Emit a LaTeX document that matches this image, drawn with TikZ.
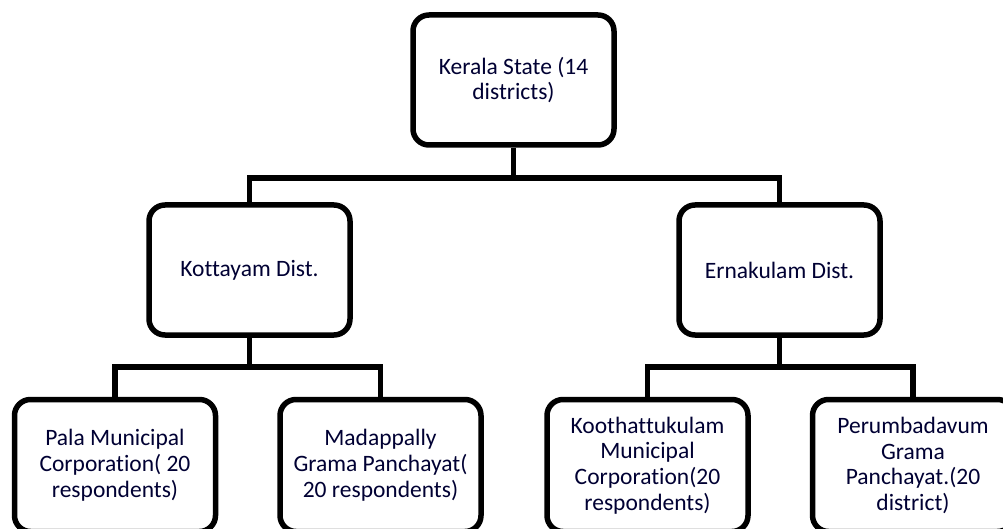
\documentclass[tikz,border=0pt]{standalone}
\usepackage{fontspec}
\setmainfont{Carlito}[Ligatures=CommonOff]
\begin{document}
\begin{tikzpicture}[x=1pt,y=-1pt,
  box/.style={draw=black, line width=5.5pt, rounded corners=16pt, fill=white,
    minimum width=201pt, minimum height=130pt, align=center, inner sep=2pt,
    font=\fontsize{23.5}{25.8}\selectfont, text=black!80!blue},
  link/.style={draw=black, line width=5.5pt}]
\path[use as bounding box] (0,0) rectangle (1003,529);
\begin{scope}
\clip (0,0) rectangle (1003,529);
\node[box] (ks) at (513.5,80) {Kerala State (14\\districts)};
\node[box] (kd) at (249.5,270) {Kottayam Dist.};
\node[box] (ed) at (779.5,270) {Ernakulam Dist.};
\node[box, minimum height=132pt] (pm) at (115,465.5) {Pala Municipal\\Corporation( 20\\respondents)};
\node[box, minimum height=132pt] (mg) at (380.5,465.5) {Madappally\\Grama Panchayat(\\20 respondents)};
\node[box, minimum height=132pt] (km) at (647.5,465.5) {Koothattukulam\\Municipal\\Corporation(20\\respondents)};
\node[box, minimum height=132pt] (pg) at (913,465.5) {Perumbadavum\\Grama\\Panchayat.(20\\district)};
\coordinate (b1) at (513.5,178);
\coordinate (b2) at (249.5,367);
\coordinate (b3) at (779.5,367);
\draw[link] (ks.south) -- (b1);
\draw[link] (kd.north) |- (b1) -| (ed.north);
\draw[link] (kd.south) -- (b2);
\draw[link] (pm.north) |- (b2) -| (mg.north);
\draw[link] (ed.south) -- (b3);
\draw[link] (km.north) |- (b3) -| (pg.north);
\end{scope}
\end{tikzpicture}
\end{document}
